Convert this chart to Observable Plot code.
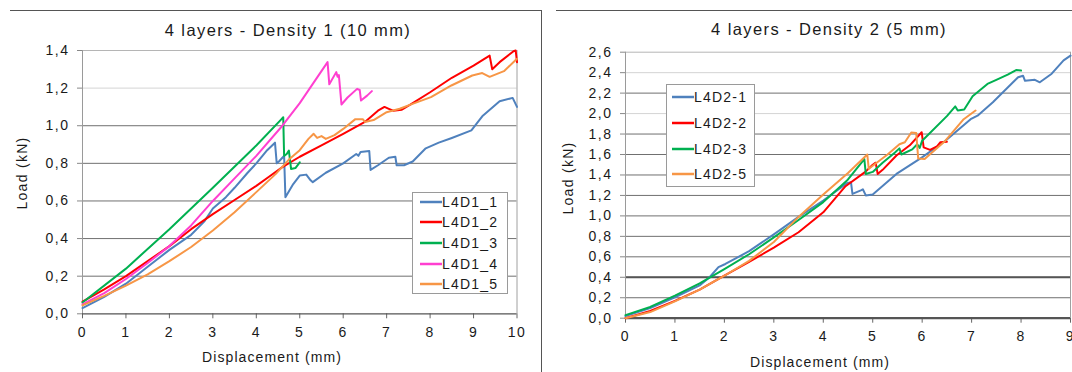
<!DOCTYPE html>
<html>
<head>
<meta charset="utf-8">
<script src="https://cdn.jsdelivr.net/npm/d3@7"></script>
<script src="https://cdn.jsdelivr.net/npm/@observablehq/plot@0.6"></script>
<style>
  html, body { margin: 0; padding: 0; background: #fff; }
  #root { position: relative; width: 1072px; height: 372px; overflow: hidden; font-family: "Liberation Sans", Arial, sans-serif; color: #1a1a1a; }
  .abs { position: absolute; }
  .title { font-size: 16.5px; letter-spacing: 1.4px; white-space: nowrap; transform: translate(-50%, -50%); }
  .xlab { font-size: 14px; letter-spacing: 1.1px; white-space: nowrap; transform: translate(-50%, -50%); }
  .ylab { font-size: 14px; letter-spacing: 1.3px; white-space: nowrap; transform: translate(-50%, -50%) rotate(-90deg); }
  .legend { border: 1px solid #9a9a9a; background: #fff; box-sizing: border-box; }
  .legrow { position: absolute; display: flex; align-items: center; font-size: 14px; letter-spacing: 1.2px; white-space: nowrap; transform: translateY(-50%); }
  .legrow svg { display: block; }
</style>
</head>
<body>
<div id="root"></div>
<script>
// ---------------- Data: Chart 1 (4 layers - Density 1) ----------------
const xTicks1 = [0, 1, 2, 3, 4, 5, 6, 7, 8, 9, 10];
const yTicks1 = [0, 0.2, 0.4, 0.6, 0.8, 1.0, 1.2, 1.4];
const names1 = ["L4D1_1", "L4D1_2", "L4D1_3", "L4D1_4", "L4D1_5"];
const colors1 = ["#4F81BD", "#FF0000", "#00B050", "#FF3FD0", "#F79646"];

const L4D1_1 = [[0,0.03],[0.5,0.09],[1,0.16],[1.5,0.25],[2,0.34],[2.5,0.42],[2.8,0.49],[3.0,0.56],[3.3,0.62],[3.5,0.67],[3.8,0.75],[4.0,0.80],[4.25,0.87],[4.43,0.91],[4.47,0.80],[4.52,0.81],[4.6,0.83],[4.64,0.84],[4.67,0.62],[4.85,0.69],[5.0,0.735],[5.15,0.74],[5.25,0.71],[5.3,0.70],[5.6,0.75],[6.0,0.80],[6.3,0.85],[6.35,0.84],[6.4,0.86],[6.6,0.865],[6.63,0.765],[6.8,0.79],[7.05,0.83],[7.2,0.835],[7.23,0.79],[7.4,0.79],[7.6,0.81],[7.9,0.88],[8.2,0.91],[8.5,0.935],[8.95,0.975],[9.2,1.05],[9.6,1.13],[9.9,1.148],[10,1.10]];
const L4D1_2 = [[0,0.065],[0.5,0.13],[1,0.2],[1.5,0.28],[2,0.36],[2.5,0.45],[3,0.53],[3.5,0.605],[4,0.68],[4.3,0.73],[4.6,0.78],[5,0.835],[5.5,0.895],[6,0.957],[6.5,1.02],[6.8,1.08],[6.95,1.10],[7.05,1.09],[7.15,1.08],[7.35,1.085],[7.6,1.12],[8.0,1.178],[8.5,1.255],[9.0,1.32],[9.37,1.373],[9.43,1.30],[9.6,1.338],[9.92,1.396],[9.97,1.40],[10,1.338]];
const L4D1_3 = [[0,0.06],[1,0.24],[2,0.45],[3,0.67],[4,0.895],[4.58,1.035],[4.62,1.045],[4.64,0.84],[4.7,0.85],[4.75,0.868],[4.8,0.77],[4.9,0.775],[5.0,0.805]];
const L4D1_4 = [[0,0.05],[0.5,0.11],[1,0.185],[1.5,0.27],[2,0.36],[2.5,0.47],[3,0.6],[3.5,0.72],[4,0.84],[4.6,1.0],[5.0,1.12],[5.64,1.338],[5.68,1.22],[5.84,1.285],[5.87,1.26],[5.9,1.27],[5.96,1.113],[6.1,1.15],[6.32,1.196],[6.38,1.19],[6.41,1.134],[6.55,1.16],[6.66,1.184]];
const L4D1_5 = [[0,0.045],[0.5,0.095],[1,0.15],[1.5,0.21],[2,0.28],[2.5,0.355],[3,0.443],[3.5,0.54],[4,0.647],[4.45,0.744],[4.75,0.82],[5.0,0.87],[5.2,0.93],[5.32,0.957],[5.4,0.935],[5.5,0.945],[5.6,0.93],[5.8,0.95],[6.0,0.983],[6.28,1.035],[6.45,1.035],[6.5,1.02],[6.7,1.03],[7.0,1.072],[7.3,1.09],[7.58,1.115],[8.02,1.152],[8.49,1.214],[8.97,1.267],[9.2,1.28],[9.37,1.26],[9.7,1.29],[10,1.356]];

// ---------------- Data: Chart 2 (4 layers - Density 2) ----------------
const xTicks2 = [0, 1, 2, 3, 4, 5, 6, 7, 8, 9];
const yTicks2 = [0, 0.2, 0.4, 0.6, 0.8, 1.0, 1.2, 1.4, 1.6, 1.8, 2.0, 2.2, 2.4, 2.6];
const names2 = ["L4D2-1", "L4D2-2", "L4D2-3", "L4D2-5"];
const colors2 = ["#4F81BD", "#FF0000", "#00B050", "#F79646"];

const L4D2_1 = [[0,0.02],[0.5,0.1],[1,0.205],[1.5,0.32],[1.7,0.4],[1.88,0.5],[2.02,0.53],[2.5,0.655],[3.0,0.82],[3.5,0.99],[4.0,1.15],[4.48,1.32],[4.56,1.33],[4.59,1.215],[4.76,1.25],[4.8,1.26],[4.86,1.2],[5.0,1.21],[5.48,1.41],[5.99,1.57],[6.47,1.735],[6.98,1.945],[7.12,1.98],[7.43,2.11],[7.94,2.355],[8.04,2.37],[8.08,2.32],[8.28,2.33],[8.38,2.306],[8.62,2.39],[8.86,2.52],[9.0,2.567]];
const L4D2_2 = [[0,0.0],[0.5,0.07],[1,0.17],[1.5,0.28],[2,0.415],[2.5,0.55],[3,0.69],[3.5,0.84],[4,1.035],[4.45,1.29],[4.85,1.43],[5.0,1.5],[5.06,1.52],[5.1,1.41],[5.2,1.45],[5.48,1.59],[5.75,1.69],[5.99,1.818],[6.03,1.67],[6.16,1.645],[6.3,1.68],[6.37,1.72],[6.5,1.725]];
const L4D2_3 = [[0,0.03],[0.5,0.11],[1,0.22],[1.5,0.34],[2,0.48],[2.5,0.625],[3,0.79],[3.5,0.96],[4,1.135],[4.48,1.345],[4.83,1.555],[4.86,1.41],[5.0,1.43],[5.2,1.52],[5.45,1.62],[5.54,1.66],[5.58,1.6],[5.8,1.65],[5.9,1.70],[5.95,1.665],[6.0,1.735],[6.5,1.975],[6.67,2.07],[6.72,2.03],[6.85,2.04],[7.02,2.17],[7.32,2.29],[7.5,2.33],[7.73,2.38],[7.9,2.425],[8.0,2.42]];
const L4D2_5 = [[0,0.0],[0.5,0.06],[1,0.165],[1.5,0.28],[2,0.415],[2.5,0.56],[3,0.745],[3.5,0.99],[4,1.21],[4.5,1.42],[4.89,1.6],[4.92,1.46],[5.0,1.49],[5.3,1.6],[5.54,1.70],[5.65,1.72],[5.78,1.815],[5.88,1.81],[5.92,1.56],[6.05,1.555],[6.47,1.735],[6.84,1.945],[7.08,2.03]];

const series1 = [L4D1_1, L4D1_2, L4D1_3, L4D1_4, L4D1_5];
const series2 = [L4D2_1, L4D2_2, L4D2_3, L4D2_5];

// ---------------- Rendering ----------------
const root = document.getElementById("root");
const fmt = d => d.toFixed(1).replace(".", ",");

function makeChart(cfg) {
  const xMax = cfg.xTicks[cfg.xTicks.length - 1];
  const yMax = cfg.yTicks[cfg.yTicks.length - 1];
  const innerGrid = cfg.yTicks.filter(v => v > 0 && v < yMax);
  const darkGrid = innerGrid.filter(v => !cfg.lightGrid.includes(v));
  const marks = [
    Plot.ruleY(cfg.lightGrid, {stroke: "#d4d4d4", strokeWidth: 1}),
    Plot.ruleY(darkGrid, {stroke: "#707070", strokeWidth: 1}),
    Plot.ruleY(cfg.boldGrid, {stroke: "#555", strokeWidth: 2}),
    Plot.ruleY([yMax], {stroke: "#b5b5b5", strokeWidth: 1}),
    Plot.ruleX([xMax], {stroke: "#a0a0a0", strokeWidth: 1}),
    Plot.ruleX([0], {stroke: "#9a9a9a", strokeWidth: 1}),
    Plot.axisY(cfg.yTicks, {tickSize: 5, tickPadding: 8, tickFormat: fmt, label: null, stroke: "#888", fill: "#1a1a1a"}),
    Plot.axisX(cfg.xTicks, {tickSize: 5, tickPadding: 8, tickFormat: d => String(d), label: null, stroke: "#666", fill: "#1a1a1a"}),
    Plot.ruleY([0], {stroke: "#555", strokeWidth: cfg.bottomWidth})
  ];
  cfg.series.forEach((s, i) => {
    marks.push(Plot.line(s, {x: d => d[0], y: d => d[1], stroke: cfg.colors[i], strokeWidth: 2, strokeLinejoin: "round"}));
  });
  const svg = Plot.plot({
    width: cfg.width, height: 372,
    marginLeft: cfg.ml, marginRight: cfg.mr, marginTop: cfg.mt, marginBottom: cfg.mb,
    x: {domain: [0, xMax]},
    y: {domain: [0, yMax]},
    style: {fontFamily: "'Liberation Sans', Arial, sans-serif", fontSize: "14px", letterSpacing: "1.5px", background: "none", overflow: "visible"},
    marks
  });
  const wrap = document.createElement("div");
  wrap.className = "abs";
  wrap.style.left = cfg.left + "px";
  wrap.style.top = "0px";
  wrap.appendChild(svg);
  root.appendChild(wrap);
}

function addText(cls, text, x, y) {
  const d = document.createElement("div");
  d.className = "abs " + cls;
  d.style.left = x + "px";
  d.style.top = y + "px";
  d.textContent = text;
  root.appendChild(d);
}

function addLegend(names, colors, box, rowStart, rowStep, sampleLeft) {
  const lg = document.createElement("div");
  lg.className = "abs legend";
  lg.style.left = box[0] + "px"; lg.style.top = box[1] + "px";
  lg.style.width = box[2] + "px"; lg.style.height = box[3] + "px";
  root.appendChild(lg);
  names.forEach((n, i) => {
    const r = document.createElement("div");
    r.className = "legrow";
    r.style.left = sampleLeft + "px";
    r.style.top = (rowStart + i * rowStep) + "px";
    r.innerHTML = `<svg width="22" height="4"><line x1="0" y1="2" x2="22" y2="2" stroke="${colors[i]}" stroke-width="2.5"/></svg><span>${n}</span>`;
    root.appendChild(r);
  });
}

// panel frames
const f1 = document.createElement("div");
f1.className = "abs";
Object.assign(f1.style, {left: "10px", top: "10px", width: "531px", height: "380px", borderTop: "1px solid #555", borderRight: "1px solid #555"});
root.appendChild(f1);
const f2 = document.createElement("div");
f2.className = "abs";
Object.assign(f2.style, {left: "556px", top: "10px", width: "520px", height: "1px", borderTop: "1px solid #555"});
root.appendChild(f2);

makeChart({left: 0, width: 541, ml: 82, mr: 24.5, mt: 50, mb: 58.7,
  xTicks: xTicks1, yTicks: yTicks1, lightGrid: [1.2], boldGrid: [], bottomWidth: 1.2,
  series: series1, colors: colors1});

makeChart({left: 541, width: 531, ml: 84, mr: 2, mt: 51.7, mb: 54.3,
  xTicks: xTicks2, yTicks: yTicks2, lightGrid: [2.4, 2.0], boldGrid: [0.4], bottomWidth: 2.2,
  series: series2, colors: colors2});

addText("title", "4 layers - Density 1 (10 mm)", 288, 30);
addText("title", "4 layers - Density 2 (5 mm)", 829, 29);
addText("xlab", "Displacement (mm)", 272, 357);
addText("xlab", "Displacement (mm)", 820, 362);
addText("ylab", "Load (kN)", 21.5, 173);
addText("ylab", "Load (kN)", 567.5, 177.5);

addLegend(names1, colors1, [411.5, 192, 96, 102], 201.7, 20.6, 420);
addLegend(names2, colors2, [665.5, 84, 89, 103], 96.7, 25.9, 672);
</script>
</body>
</html>
